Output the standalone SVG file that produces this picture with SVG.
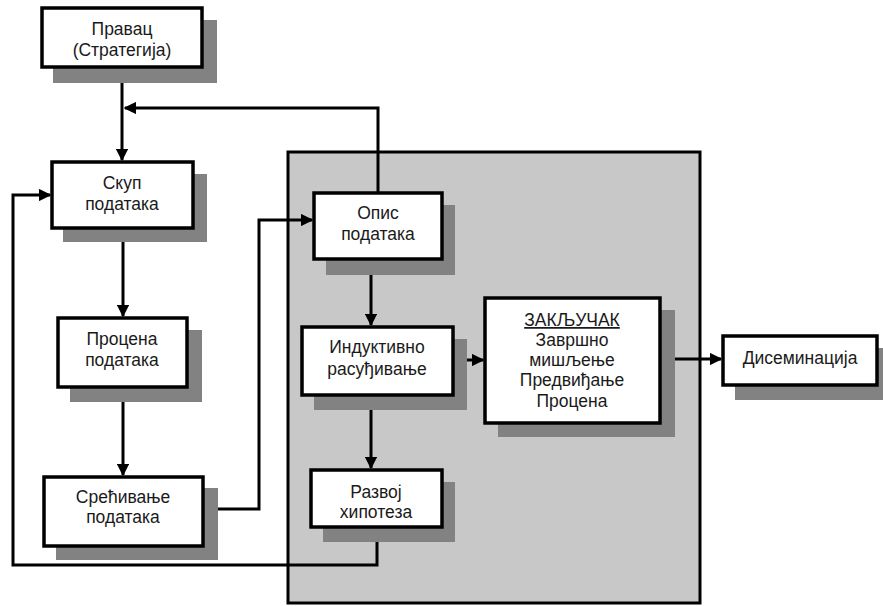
<svg xmlns="http://www.w3.org/2000/svg" width="883" height="606" viewBox="0 0 883 606">
<defs>
<style>
.box{fill:#fff;stroke:#000;stroke-width:3.5}
.sh{fill:#828282}
.t{font-family:"Liberation Sans",Arial,sans-serif;font-size:17.5px;fill:#1a1a1a;text-anchor:middle}
.c{fill:none;stroke:#000;stroke-width:3}
</style>
<marker id="ah" viewBox="0 0 10 10" refX="9" refY="5" markerWidth="4.2" markerHeight="4.2" orient="auto" markerUnits="strokeWidth">
<path d="M0,0 L10,5 L0,10 z" fill="#000"/>
</marker>
</defs>
<rect width="883" height="606" fill="#fff"/>
<g id="region">
<rect x="288" y="152" width="412" height="451" fill="#c8c8c8" stroke="#000" stroke-width="3"/>
</g>
<g id="connectors">
<path class="c" d="M122,68 V160" marker-end="url(#ah)"/>
<path class="c" d="M378,193 V108 H125" marker-end="url(#ah)"/>
<path class="c" d="M123,229 V316" marker-end="url(#ah)"/>
<path class="c" d="M123,388 V475" marker-end="url(#ah)"/>
<path class="c" d="M204,509 H259 V220 H312" marker-end="url(#ah)"/>
<path class="c" d="M371,260 V325" marker-end="url(#ah)"/>
<path class="c" d="M371,396 V468" marker-end="url(#ah)"/>
<path class="c" d="M454,360 H483" marker-end="url(#ah)"/>
<path class="c" d="M661,359 H721" marker-end="url(#ah)"/>
<path class="c" d="M377,528 V565 H13 V195 H50" marker-end="url(#ah)"/>
</g>
<g id="n-pravac">
<rect class="sh" x="53" y="20" width="164" height="63"/>
<rect class="box" x="42" y="8" width="160" height="59"/>
<text class="t" x="122" y="35">Правац</text>
<text class="t" x="122" y="56">(Стратегија)</text>
</g>
<g id="n-skup">
<rect class="sh" x="63" y="174" width="144" height="68"/>
<rect class="box" x="52" y="162" width="141" height="66"/>
<text class="t" x="122" y="189">Скуп</text>
<text class="t" x="122" y="210">података</text>
</g>
<g id="n-procena">
<rect class="sh" x="70" y="330" width="132" height="72"/>
<rect class="box" x="58" y="318" width="129" height="69"/>
<text class="t" x="122" y="345">Процена</text>
<text class="t" x="122" y="366">података</text>
</g>
<g id="n-sredjivanje">
<rect class="sh" x="56" y="488" width="162" height="72"/>
<rect class="box" x="44" y="477" width="159" height="69"/>
<text class="t" x="123" y="503">Срећивање</text>
<text class="t" x="123" y="523">података</text>
</g>
<g id="n-opis">
<rect class="sh" x="326" y="205" width="129" height="70"/>
<rect class="box" x="314" y="193" width="128" height="66"/>
<text class="t" x="378" y="219">Опис</text>
<text class="t" x="378" y="240">података</text>
</g>
<g id="n-induktivno">
<rect class="sh" x="314" y="339" width="153" height="71"/>
<rect class="box" x="302" y="327" width="151" height="68"/>
<text class="t" x="377" y="353">Индуктивно</text>
<text class="t" x="377" y="375">расуђивање</text>
</g>
<g id="n-razvoj">
<rect class="sh" x="323" y="482" width="132" height="60"/>
<rect class="box" x="311" y="470" width="131" height="57"/>
<text class="t" x="376" y="498">Развој</text>
<text class="t" x="376" y="518">хипотеза</text>
</g>
<g id="n-zakljucak">
<rect class="sh" x="498" y="310" width="177" height="127"/>
<rect class="box" x="485" y="298" width="175" height="125"/>
<text class="t" x="572" y="326" text-decoration="underline">ЗАКЉУЧАК</text>
<text class="t" x="572" y="346">Завршно</text>
<text class="t" x="572" y="366">мишљење</text>
<text class="t" x="572" y="386">Предвиђање</text>
<text class="t" x="572" y="407">Процена</text>
</g>
<g id="n-diseminacija">
<rect class="sh" x="735" y="348" width="148" height="52"/>
<rect class="box" x="723" y="336" width="154" height="49"/>
<text class="t" x="800" y="364">Дисеминација</text>
</g>
</svg>
